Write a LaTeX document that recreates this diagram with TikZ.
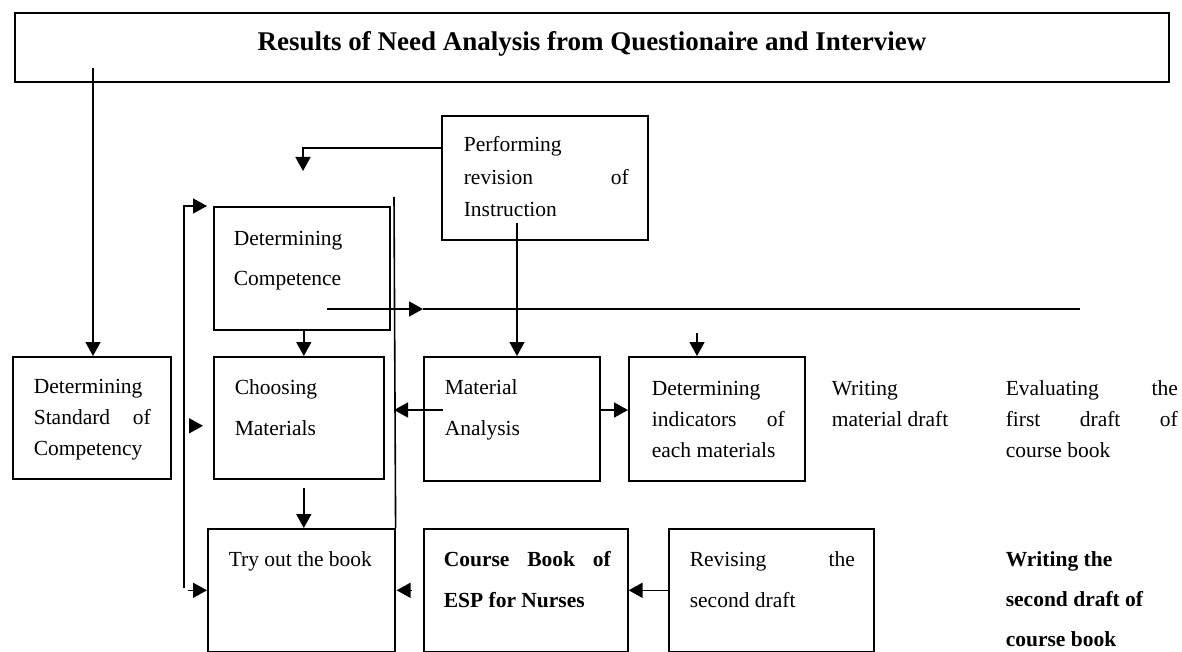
\documentclass[tikz,border=0pt]{standalone}
\usepackage{fontspec}
\setmainfont{Liberation Serif}
\usetikzlibrary{arrows.meta}

\begin{document}
\begin{tikzpicture}[x=1pt, y=-1pt, line width=1.6pt,
    stage/.style = {draw, anchor=north west, inner sep=0pt},
    txt/.style = {anchor=base west, inner sep=0pt, align=left},
    arr/.style = {-{Triangle[length=14pt, width=15pt]}}]
\useasboundingbox (0,0) rectangle (1182,652);

\node[stage, minimum width=1154, minimum height=69] (res) at (14,12) {};
\node[font=\fontsize{27}{30}\selectfont\bfseries] (restitle) at (592,44) {Results of Need Analysis from Questionaire and Interview};

\node[stage, minimum width=158, minimum height=122] (std) at (12,356) {};
\node[txt, font=\fontsize{21.5}{31}\selectfont] (stdt) at (33,455) {Determining\\\makebox[117pt][s]{Standard of}\\Competency};

\node[stage, minimum width=206, minimum height=124] (perf) at (441,115) {};
\node[txt, font=\fontsize{21.5}{32.5}\selectfont] (perft) at (463,217) {Performing\\\makebox[165pt][s]{revision of}\\Instruction};

\node[stage, minimum width=176, minimum height=123] (comp) at (213,206) {};
\node[txt, font=\fontsize{21.5}{40}\selectfont] (compt) at (233,285) {Determining\\Competence};

\node[stage, minimum width=170, minimum height=122] (choose) at (213,356) {};
\node[txt, font=\fontsize{21.5}{41}\selectfont] (chooset) at (234,435) {Choosing\\Materials};

\node[stage, minimum width=176, minimum height=124] (mat) at (423,356) {};
\node[txt, font=\fontsize{21.5}{41}\selectfont] (matt) at (444,435) {Material\\Analysis};

\node[stage, minimum width=176, minimum height=124] (ind) at (628,356) {};
\node[txt, font=\fontsize{21.5}{31}\selectfont] (indt) at (651,457) {Determining\\\makebox[133pt][s]{indicators of}\\each materials};

\node[txt, font=\fontsize{21.5}{31}\selectfont] (write) at (831,426) {Writing\\material draft};
\node[txt, font=\fontsize{21.5}{31}\selectfont] (eval) at (1005,457) {\makebox[172pt][s]{Evaluating the}\\\makebox[172pt][s]{first draft of}\\course book};

\node[stage, minimum width=187, minimum height=123] (try) at (207,528) {};
\node[txt, font=\fontsize{21.5}{41}\selectfont] (tryt) at (228,566) {Try out the book};

\node[stage, minimum width=204, minimum height=123] (course) at (423,528) {};
\node[txt, font=\fontsize{21.5}{41}\selectfont\bfseries] (courset) at (443,607) {\makebox[167pt][s]{Course Book of}\\ESP for Nurses};

\node[stage, minimum width=205, minimum height=123] (rev) at (668,528) {};
\node[txt, font=\fontsize{21.5}{41}\selectfont] (revt) at (689,607) {\makebox[165pt][s]{Revising the}\\second draft};

\node[txt, font=\fontsize{21.5}{40}\selectfont\bfseries] (second) at (1005,646) {Writing the\\second draft of\\course book};

\coordinate (stdin) at (93,68);
\coordinate (perfout) at (441,148);
\coordinate (revtip) at (303,171);
\coordinate (loopbot) at (184,588);
\coordinate (sep) at (394,197);
\coordinate (compout) at (327,309);
\coordinate (lineend) at (1080,309);
\coordinate (perfdown) at (517,223);
\coordinate (indin) at (697,333);
\coordinate (matout) at (443,410);

\draw[arr] (stdin) -- (stdin |- std.north);
\draw[arr] (perfout) -| (revtip);
\draw[arr, shorten >=6pt] (loopbot) |- (comp.north west);
\draw[arr] ([xshift=-19pt]try.west) -- (try.west);
\draw[arr] ([xshift=-24pt, yshift=-8pt]choose.west) -- ([xshift=-10pt, yshift=-8pt]choose.west);
\draw[arr] ([xshift=16pt]try.east) -- ([xshift=1pt]try.east);
\draw (sep) -- (try.north east);
\draw[arr] ([xshift=2pt]comp.south) -- ([xshift=2pt]comp.south |- choose.north);
\draw[arr] ([xshift=5pt, yshift=-8pt]choose.south) -- ([xshift=5pt]choose.south |- try.north);
\draw[arr] (compout) -- (compout -| mat.west);
\draw (compout -| mat.west) -- (lineend);
\draw[arr] (perfdown) -- (perfdown |- mat.north);
\draw[arr] (indin) -- (indin |- ind.north);
\draw[arr] (matout) -- (matout -| sep);
\draw[arr] (mat.east |- matout) -- (ind.west |- matout);
\draw[arr] (rev.west) -- (course.east);
\end{tikzpicture}
\end{document}
